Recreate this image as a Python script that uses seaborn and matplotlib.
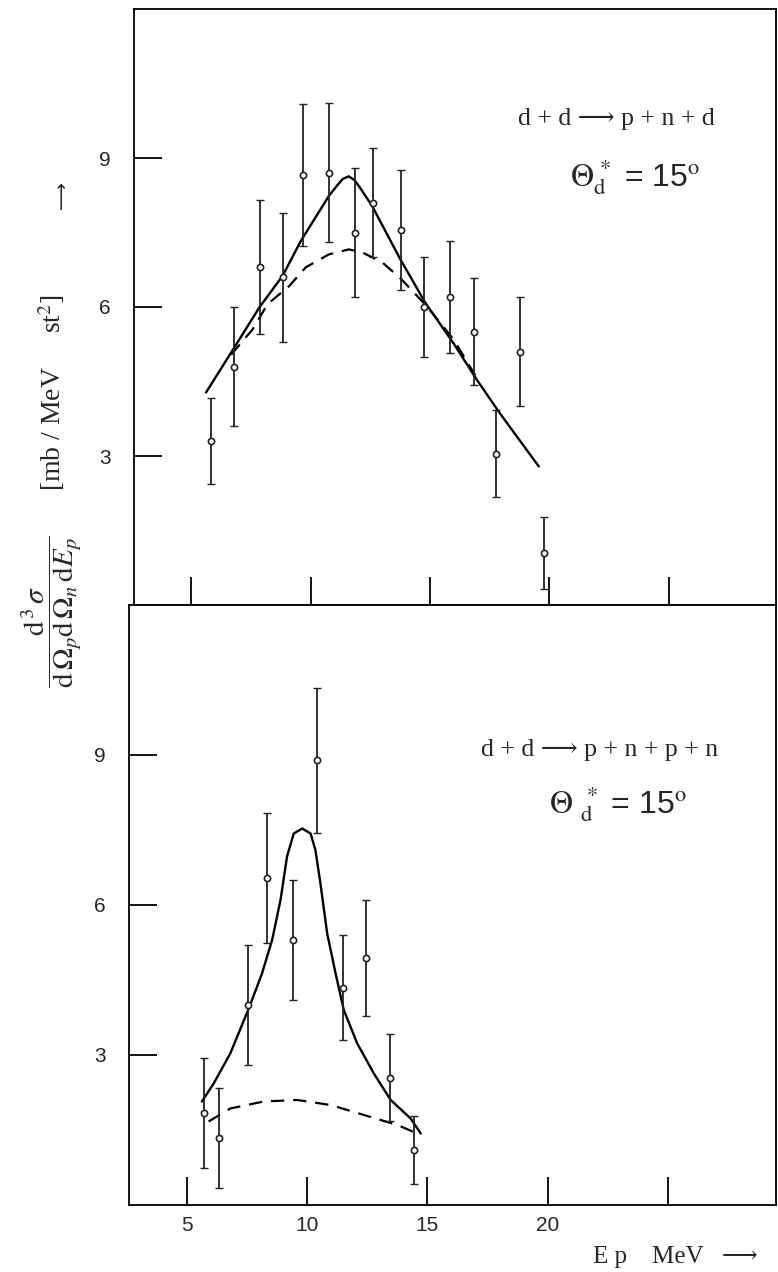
import numpy as np
import pandas as pd
import matplotlib
matplotlib.use('Agg')
import matplotlib.pyplot as plt
import seaborn as sns

#%% Data (Ep in MeV, cross section in mb/MeV st^2)

# upper panel: d + d -> p + n + d
top_ep = [5.84, 6.79, 7.86, 8.84, 9.67, 10.79, 11.88, 12.60, 13.78, 14.77, 15.84, 16.85, 17.78, 18.77, 19.76]
top_xs = [3.30, 4.80, 6.80, 6.60, 8.65, 8.70, 7.50, 8.10, 7.55, 6.00, 6.20, 5.50, 3.05, 5.10, 1.05]
top_err = [0.87, 1.20, 1.35, 1.30, 1.43, 1.40, 1.30, 1.10, 1.20, 1.00, 1.13, 1.08, 0.88, 1.10, 0.72]

top_solid_ep = [5.62, 6.81, 7.85, 8.83, 9.59, 10.77, 11.10, 11.35, 11.60, 11.85, 12.10, 12.57, 13.76, 14.80, 16.00, 16.93, 17.90, 19.56]
top_solid_xs = [4.28, 5.19, 5.99, 6.63, 7.33, 8.24, 8.44, 8.58, 8.63, 8.55, 8.38, 8.04, 6.96, 6.09, 5.26, 4.56, 3.88, 2.79]

top_dash_ep = [6.67, 7.57, 8.20, 9.10, 9.80, 10.77, 11.60, 12.16, 13.00, 13.80, 14.86, 16.00, 16.90]
top_dash_xs = [5.04, 5.55, 6.06, 6.42, 6.80, 7.06, 7.16, 7.10, 6.90, 6.56, 6.02, 5.34, 4.62]

# lower panel: d + d -> p + n + p + n
bot_ep = [5.70, 6.33, 7.55, 8.34, 9.42, 10.42, 11.51, 12.44, 13.44, 14.45]
bot_xs = [1.85, 1.35, 4.00, 6.55, 5.30, 8.90, 4.35, 4.95, 2.55, 1.10]
bot_err = [1.10, 1.00, 1.20, 1.30, 1.20, 1.45, 1.05, 1.16, 0.87, 0.68]

bot_solid_ep = [5.63, 6.12, 6.81, 7.58, 8.13, 8.55, 8.90, 9.17, 9.45, 9.80, 10.15, 10.35, 10.56, 10.84,
                11.19, 11.53, 12.09, 12.78, 13.48, 14.31, 14.73]
bot_solid_xs = [2.07, 2.43, 3.03, 3.93, 4.63, 5.30, 6.10, 6.97, 7.43, 7.53, 7.43, 7.10, 6.43, 5.43,
                4.63, 3.90, 3.23, 2.63, 2.10, 1.73, 1.43]

bot_dash_ep = [5.91, 6.81, 8.20, 9.59, 10.98, 12.37, 13.76, 14.73]
bot_dash_xs = [1.67, 1.93, 2.07, 2.10, 2.00, 1.80, 1.60, 1.40]

x_ticks = [5, 10, 15, 20, 25]
x_ticklabels = ['5', '10', '15', '20', '']
y_ticks = [3, 6, 9]
y_ticklabels = ['3', '6', '9']

#%% Style

sns.set_style('white')
plt.rcParams['font.family'] = ['Liberation Sans', 'DejaVu Sans']
plt.rcParams['mathtext.fontset'] = 'stix'
serif = ['Liberation Serif', 'DejaVu Serif', 'DejaVu Sans']

W, H = 778, 1272
fig = plt.figure(figsize=(W / 100, H / 100), dpi=100)

def px_axes(left, top, right, bottom):
    return fig.add_axes([left / W, 1 - bottom / H, (right - left) / W, (bottom - top) / H])

ax_top = px_axes(134, 9, 776, 605)
ax_bot = px_axes(129, 605, 776, 1205)

panels = [
    (ax_top, top_ep, top_xs, top_err, top_solid_ep, top_solid_xs, top_dash_ep, top_dash_xs),
    (ax_bot, bot_ep, bot_xs, bot_err, bot_solid_ep, bot_solid_xs, bot_dash_ep, bot_dash_xs),
]

#%% Draw both panels

for ax, ep, xs, err, s_ep, s_xs, d_ep, d_xs in panels:
    pts = pd.DataFrame({'Ep': ep, 'xs': xs, 'err': err})
    solid = pd.DataFrame({'Ep': s_ep, 'xs': s_xs})
    dash = pd.DataFrame({'Ep': d_ep, 'xs': d_xs})
    # theory curves
    sns.lineplot(data=solid, x='Ep', y='xs', ax=ax, color='black', linewidth=1.7, sort=False)
    sns.lineplot(data=dash, x='Ep', y='xs', ax=ax, color='black', linewidth=1.6, sort=False,
                 linestyle=(0, (6, 4)))
    # measured points with error bars
    ax.errorbar(pts['Ep'], pts['xs'], yerr=pts['err'], fmt='none', ecolor='#222222',
                elinewidth=1.3, capsize=3, capthick=1.0)
    sns.scatterplot(data=pts, x='Ep', y='xs', ax=ax, marker='o', s=20, facecolor='white',
                    edgecolor='#222222', linewidth=1.2, zorder=5)
    ax.set_xlim(2.6, 29.5)
    ax.set_ylim(0, 12)
    ax.set_xticks(x_ticks)
    ax.set_yticks(y_ticks)
    ax.set_yticklabels(y_ticklabels, fontsize=15)
    ax.tick_params(axis='both', direction='in', length=20, width=1.3, color='black',
                   bottom=True, left=True, top=False, right=False)
    ax.tick_params(axis='y', pad=17)
    ax.set_xlabel('')
    ax.set_ylabel('')
    for sp in ax.spines.values():
        sp.set_visible(True)
        sp.set_color('black')
        sp.set_linewidth(1.3)

ax_top.set_xticklabels([])
ax_bot.set_xticklabels(x_ticklabels, fontsize=15)
ax_bot.tick_params(axis='x', pad=8)

#%% Annotations

ax_top.text(0.751, 0.815, 'd + d \u27f6 p + n + d', transform=ax_top.transAxes,
            ha='center', va='center', fontsize=18.5, family=serif)
ax_top.text(0.78, 0.718, r'$\Theta_{\mathrm{d}}^{\,*}$ = 15$^{\mathrm{o}}$', transform=ax_top.transAxes,
            ha='center', va='center', fontsize=23)
ax_bot.text(0.728, 0.758, 'd + d \u27f6 p + n + p + n', transform=ax_bot.transAxes,
            ha='center', va='center', fontsize=18.5, family=serif)
ax_bot.text(0.756, 0.668, r'$\Theta\ _{\mathrm{d}}^{\,*}$ = 15$^{\mathrm{o}}$', transform=ax_bot.transAxes,
            ha='center', va='center', fontsize=23)

# y axis label made of three pieces, as in the original
fig.text(52 / W, 1 - 612 / H,
         r'$\dfrac{\mathrm{d}^{\,3}\,\sigma}{\mathrm{d}\,\Omega_{p}\mathrm{d}\,\Omega_{n}\,\mathrm{d}E_{p}}$',
         rotation=90, ha='center', va='center', fontsize=21)
fig.text(52 / W, 1 - 393 / H, r'[mb / MeV     st$^{2}$]', rotation=90,
         ha='center', va='center', fontsize=20, family=serif)
fig.text(62 / W, 1 - 195 / H, '\u27f6', rotation=90, ha='center', va='center',
         fontsize=14, family=['DejaVu Sans'])

fig.text(593 / W, 1 - 1257 / H, 'E p    MeV   \u27f6', ha='left', va='center',
         fontsize=18, family=serif)

fig.savefig('out.png', dpi=100)
